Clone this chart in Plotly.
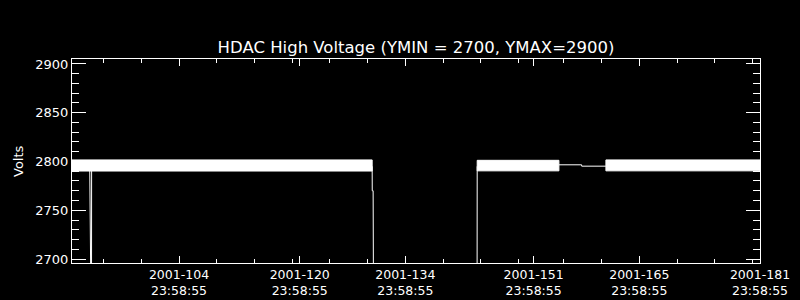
import plotly.graph_objects as go

# ---- data (day-of-year 2001, values in Volts) ----
seg_start = [89.82, 143.52, 160.58]
seg_end = [129.60, 154.35, 181.00]
band_low = [2790.2, 2790.4, 2790.4]
band_high = [2801.6, 2801.2, 2801.6]

dip1_days = [92.17, 92.20, 92.40, 92.42]
dip1_vals = [2795.0, 2600.0, 2600.0, 2795.0]

drop_days = [129.60, 129.61, 129.73, 129.80]
drop_vals = [2795.0, 2770.0, 2770.0, 2600.0]

rise_days = [143.50, 143.52]
rise_vals = [2600.0, 2795.0]

flat_days = [154.35, 157.36, 157.37, 160.58]
flat_vals = [2796.6, 2796.6, 2795.2, 2795.2]

major_days = [104, 120, 134, 151, 165, 181]
major_labels = ["2001-104<br>23:58:55", "2001-120<br>23:58:55", "2001-134<br>23:58:55",
                "2001-151<br>23:58:55", "2001-165<br>23:58:55", "2001-181<br>23:58:55"]
minor_days = [94, 99, 104, 109, 114, 119, 124, 129, 134, 139, 144, 149,
              155, 160, 165, 170, 175, 180]
y_ticks = [2700, 2750, 2800, 2850, 2900]

FONT = "DejaVu Sans"

fig = go.Figure()

for s, e, lo, hi in zip(seg_start, seg_end, band_low, band_high):
    fig.add_trace(go.Scatter(x=[s, e, e, s, s], y=[lo, lo, hi, hi, lo],
                             mode="lines", fill="toself", fillcolor="white",
                             line=dict(color="white", width=1), hoverinfo="skip",
                             showlegend=False))

for xs, ys in [(dip1_days, dip1_vals), (drop_days, drop_vals),
               (rise_days, rise_vals), (flat_days, flat_vals)]:
    fig.add_trace(go.Scatter(x=xs, y=ys, mode="lines",
                             line=dict(color="white", width=1),
                             showlegend=False, hoverinfo="skip"))

fig.update_layout(
    width=800, height=300,
    paper_bgcolor="black", plot_bgcolor="black",
    margin=dict(l=72, r=40, t=59, b=37, autoexpand=False),
    font=dict(family=FONT, color="white", size=13),
    title=dict(text="HDAC High Voltage (YMIN = 2700, YMAX=2900)",
               x=0.52, xanchor="center", y=1 - 47 / 300, yanchor="middle",
               font=dict(family=FONT, size=16.5, color="white")),
    showlegend=False,
)

fig.update_xaxes(
    range=[89.82, 181.0], showgrid=False, zeroline=False, automargin=False,
    showline=True, linecolor="white", linewidth=1, mirror="ticks",
    ticks="inside", ticklen=7, tickcolor="white", tickwidth=1,
    tickmode="array", tickvals=major_days, ticktext=major_labels,
    tickfont=dict(family=FONT, size=12.5, color="white"),
    minor=dict(tickmode="array", tickvals=minor_days, ticks="inside",
               ticklen=4, tickcolor="white", tickwidth=1, showgrid=False),
)

fig.update_yaxes(
    range=[2695.9, 2905.1], showgrid=False, zeroline=False, automargin=False,
    showline=True, linecolor="white", linewidth=1, mirror="ticks",
    ticks="inside", ticklen=14, tickcolor="white", tickwidth=1,
    tickmode="array", tickvals=y_ticks,
    tickfont=dict(family=FONT, size=13, color="white"),
    minor=dict(dtick=10, ticks="inside", ticklen=7, tickcolor="white",
               tickwidth=1, showgrid=False),
)

fig.add_annotation(text="Volts", xref="paper", yref="paper", x=0, y=0.5,
                   xshift=-54, textangle=-90, showarrow=False,
                   xanchor="center", yanchor="middle",
                   font=dict(family=FONT, size=13, color="white"))

fig.write_html("out.html")
